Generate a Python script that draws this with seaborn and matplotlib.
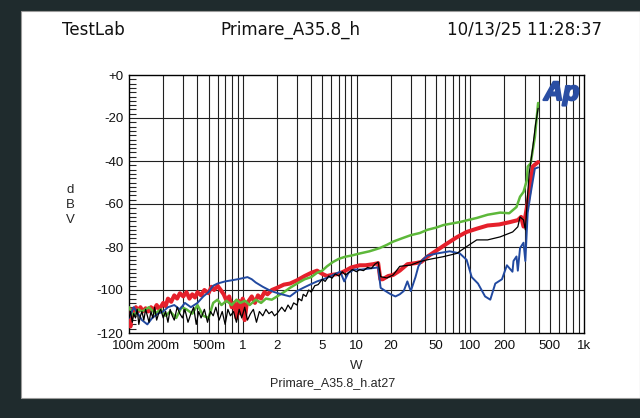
import matplotlib
matplotlib.use("Agg")
import matplotlib.pyplot as plt
import matplotlib.patheffects as pe
from matplotlib.patches import Rectangle
from matplotlib.ticker import FixedLocator, MultipleLocator, FuncFormatter
import seaborn as sns

# values (W, dBV)
red_w = [0.1, 0.103, 0.106, 0.11, 0.115, 0.12, 0.126, 0.132, 0.14, 0.148, 0.156, 0.165, 0.175, 0.185,
         0.2, 0.21, 0.22, 0.235, 0.25, 0.265, 0.28, 0.3, 0.32, 0.34, 0.36, 0.38, 0.4, 0.43, 0.46, 0.5,
         0.53, 0.56, 0.6, 0.64, 0.68, 0.72, 0.76, 0.8, 0.84, 0.88, 0.92, 0.96, 1.0, 1.04, 1.08, 1.13,
         1.2, 1.28, 1.36, 1.45, 1.55, 1.65, 1.8, 2.0,
         2.3, 2.6, 3.0, 3.5, 4.0, 4.5, 5.0, 5.5, 6.0, 7, 8, 9, 10.7, 12, 14, 15.5, 16.2, 17, 19, 21, 24,
         28, 33, 37, 42, 51, 62, 76, 93, 114, 142, 180, 220, 262, 280, 294, 315, 330, 355, 395]
red_db = [-112, -117, -109, -111, -108, -110, -108, -110, -108.5, -110, -108, -109.5, -107, -109,
          -106, -107.5, -104, -105.5, -102.5, -104, -101.5, -103, -101, -104, -102, -103.5, -101,
          -102.5, -100, -101.5, -98.5, -100, -98, -100, -102, -105, -103, -108, -106, -113, -105,
          -111, -104, -114, -107, -105, -103, -106, -102.5, -104, -101, -102, -100, -99,
          -97.5, -97, -95.5, -93.5, -92, -91, -92.5, -93.5, -93, -92.5, -91, -89.5, -88.5, -88.5, -88,
          -87.5, -95, -95, -93.5, -93, -91, -88, -87.5, -87, -84.5, -81.5, -78.5, -75.5, -73, -71.5,
          -70, -69.5, -68.5, -67.5, -66, -70.5, -61.5, -55, -42.5, -40.5]

green_w = [0.1, 0.11, 0.12, 0.13, 0.15, 0.17, 0.19, 0.21, 0.23, 0.26, 0.29, 0.32, 0.36, 0.4, 0.45, 0.5,
           0.55, 0.6, 0.65, 0.72, 0.8, 0.88, 0.95, 1.05, 1.15, 1.3, 1.45, 1.6, 1.8, 2.0, 2.3, 2.6, 3.0,
           3.5, 4.0, 4.5, 5.0, 5.5, 6.2, 7, 8, 9, 10.7, 13, 16, 18.5, 21, 25, 30, 36, 42, 50, 58, 70,
           81, 95, 114, 142, 183, 220, 255, 274, 294, 315, 320, 340, 370, 395]
green_db = [-108, -112, -109, -110, -108, -111, -109, -112, -110, -113, -108, -109, -111, -107, -112,
            -113, -106, -104.5, -107, -105, -107, -104.5, -106, -105, -107, -104.5, -106, -104, -104.5,
            -103, -101, -99, -97, -95, -94, -92, -91, -89, -87, -85.5, -84.5, -84, -83, -82, -80.5,
            -79, -77.5, -76, -74.5, -73.5, -72, -71, -69.8, -69, -68.4, -67.5, -66.5, -65, -64, -64.3,
            -61.4, -56.6, -54.4, -48.8, -42.6, -41, -28.8, -13]

black_w = [0.1, 0.103, 0.107, 0.11, 0.114, 0.118, 0.122, 0.126, 0.13, 0.135, 0.14, 0.145, 0.15, 0.156,
           0.162, 0.168, 0.175, 0.182, 0.19, 0.2, 0.21, 0.22, 0.23, 0.24, 0.25, 0.265, 0.28, 0.295,
           0.31, 0.33, 0.35, 0.37, 0.39, 0.41, 0.43, 0.46, 0.49, 0.52, 0.55, 0.58, 0.62, 0.66, 0.7,
           0.74, 0.78, 0.83, 0.88, 0.93, 0.98, 1.04, 1.1, 1.17, 1.24, 1.32, 1.4, 1.5, 1.6, 1.7, 1.8,
           1.9, 2.0,
           2.2, 2.35, 2.5, 2.65, 2.8, 3.0, 3.1, 3.3, 3.4, 3.6, 3.8, 4.0, 4.3, 4.6, 5.0, 5.3, 5.7, 6.1,
           6.5, 7.0, 7.5, 8.0, 8.5, 9.2, 10, 10.7, 11.5, 12.5, 13.5, 14.5, 15.5, 16.3, 18.5, 21, 24,
           30, 36, 44, 58, 76, 93, 114, 142, 183, 236, 262, 274, 294, 305, 320, 330, 355, 375, 395]
black_db = [-113, -110, -115, -111, -113, -109, -116, -112, -110, -114, -109, -112, -115, -110, -113,
            -108, -114, -111, -109, -113, -110, -115, -109, -112, -114, -108, -111, -113, -109, -115,
            -111, -108, -116, -110, -113, -109, -115, -110, -112, -108, -114, -110, -116, -109, -112,
            -110, -115, -109, -113, -108, -114, -111, -109, -115, -110, -112, -109, -111, -110, -112,
            -111,
            -108, -110, -107, -109, -106, -107, -104, -105, -102, -103, -100, -101, -98, -97.5, -95,
            -96, -93.5, -94.5, -92.5, -93.5, -91.5, -93, -92, -90.5, -91.5, -90.5, -91, -89.5, -90,
            -88, -87, -93.8, -94.4, -93, -89, -88.4, -86.8, -85.7, -84.5, -83, -79.8, -76.7, -76.7,
            -75.3, -73, -70.6, -66, -67.4, -72, -55, -45.6, -33.4, -23, -15.5]

blue_w = [0.1, 0.11, 0.12, 0.13, 0.145, 0.16, 0.18, 0.2, 0.22, 0.25, 0.28, 0.31, 0.35, 0.4, 0.45, 0.5,
          0.55, 0.6, 0.7, 0.8, 0.9, 1.0, 1.1, 1.2, 1.3, 1.5, 1.7, 1.9, 2.2, 2.6, 3.0, 3.4, 3.9, 4.5,
          5.1, 5.7, 6.5, 7.2, 7.8, 8.5, 9.5, 11, 13, 15.5, 16.3, 18, 20, 22, 24, 26, 28, 30, 33, 35,
          38, 42, 51, 66, 81, 93, 103, 117, 135, 150, 166, 190, 210, 235, 240, 255, 262, 274, 294,
          305, 320, 340, 370, 395]
blue_db = [-113, -108, -111, -114, -116, -113, -111, -110, -108, -107, -109, -106, -108, -106, -103,
           -101, -98, -97, -96, -95.5, -95, -94.5, -94, -95, -96.5, -98.5, -100, -101, -102, -103,
           -100.5, -99, -97.5, -96, -95, -94, -92.5, -91.5, -96, -92, -90.5, -90.5, -90, -89.5, -99,
           -100.5, -102, -103, -102, -100.5, -96, -100.5, -94, -89, -86, -84, -83, -82, -83, -86, -94,
           -97, -103, -104.5, -97, -95, -88.5, -91.5, -86.5, -84.4, -91, -80.5, -78, -86.5, -64, -55,
           -43.5, -43]

x_ticks = [0.1, 0.2, 0.5, 1, 2, 5, 10, 20, 50, 100, 200, 500, 1000]
x_labels = ["100m", "200m", "500m", "1", "2", "5", "10", "20", "50", "100", "200", "500", "1k"]
y_ticks = [0, -20, -40, -60, -80, -100, -120]

sns.set_style("white")
plt.rcParams['font.family'] = ['Liberation Sans', 'DejaVu Sans']

fig = plt.figure(figsize=(6.4, 4.18), dpi=100, facecolor='#1f2b2d')
panel = Rectangle((21 / 640, 1 - 398 / 418), 1 - 21 / 640, (398 - 11) / 418,
                  transform=fig.transFigure, facecolor='white',
                  edgecolor='#9a9a9a', lw=0.8, zorder=-10)
fig.add_artist(panel)
ax = fig.add_axes([129 / 640, 1 - 333 / 418, 455 / 640, 258 / 418], zorder=5)

# grid first so curves sit on top
ax.set_xscale('log')
minor_x = [m * 10 ** e for e in range(-1, 3) for m in range(2, 10)]
for xv in minor_x + [1, 10, 100]:
    ax.axvline(xv, color='#202020', lw=0.8, zorder=1)
for yv in y_ticks[1:-1]:
    ax.axhline(yv, color='#202020', lw=0.8, zorder=1)

sns.lineplot(x=red_w, y=red_db, ax=ax, color='#e5202b', lw=2.9, zorder=3)
sns.lineplot(x=green_w, y=green_db, ax=ax, color='#5db83a', lw=1.8, zorder=4)
sns.lineplot(x=blue_w, y=blue_db, ax=ax, color='#2149a0', lw=1.4, zorder=5)
sns.lineplot(x=black_w, y=black_db, ax=ax, color='black', lw=0.9, zorder=6)

ax.set_xlim(0.1, 1000)
ax.set_ylim(-120, 0)
ax.xaxis.set_major_locator(FixedLocator(x_ticks))
ax.xaxis.set_minor_locator(FixedLocator([]))
ax.set_xticklabels(x_labels)
ax.yaxis.set_major_locator(FixedLocator(y_ticks))
ax.yaxis.set_minor_locator(MultipleLocator(2))
ax.yaxis.set_major_formatter(FuncFormatter(lambda v, p: "+0" if v == 0 else f"{v:.0f}"))
ax.tick_params(axis='x', which='both', length=0, pad=5, labelsize=9.5, colors='#111')
ax.tick_params(axis='y', which='major', length=0, pad=4, labelsize=9.5, colors='#111')
ax.tick_params(axis='y', which='minor', direction='in', length=5, width=0.8, left=True, right=False)
for s in ax.spines.values():
    s.set_color('black')
    s.set_linewidth(1.0)
ax.set_xlabel("W", fontsize=9.5, labelpad=6)
ax.set_ylabel("")

head = dict(fontsize=12, family=['DejaVu Sans'], va='center', color='#111')
fig.text(70 / 640, 1 - 205 / 418, "d\nB\nV", ha='center', va='center', fontsize=9.5,
         linespacing=1.35)
fig.text(62 / 640, 1 - 30 / 418, "TestLab", ha='left', **head)
fig.text(290 / 640, 1 - 30 / 418, "Primare_A35.8_h", ha='center', **head)
fig.text(602 / 640, 1 - 30 / 418, "10/13/25 11:28:37", ha='right', **head)
fig.text(333 / 640, 1 - 383 / 418, "Primare_A35.8_h.at27", ha='center', va='center', fontsize=9)
fig.text(544 / 640, 1 - 100 / 418, "Ap", ha='left', va='baseline', fontsize=19,
         fontweight='bold', fontstyle='italic', color='#2a4ea3', zorder=10,
         path_effects=[pe.withStroke(linewidth=1.6, foreground='#2a4ea3')])

fig.savefig("out.png", dpi=100, facecolor=fig.get_facecolor())
